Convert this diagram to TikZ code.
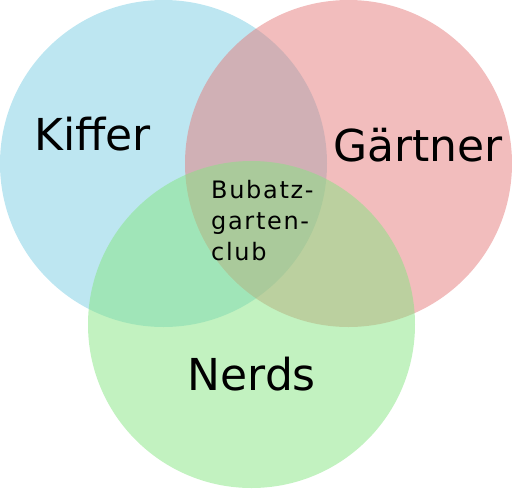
\documentclass[tikz,border=0pt]{standalone}
\usepackage{fontspec}
\setmainfont{DejaVu Sans}
\newfontfamily\spaced[LetterSpace=7]{DejaVu Sans}
\definecolor{cblue}{RGB}{123,205,227}
\definecolor{cred}{RGB}{229,123,123}
\definecolor{cgreen}{RGB}{133,229,129}
\begin{document}
\begin{tikzpicture}[x=1pt,y=-1pt,
  setfill/.style={fill=#1,fill opacity=0.5,draw=none},
  biglabel/.style={anchor=base west,inner sep=0pt,font=\fontsize{44}{53}\selectfont},
  smalllabel/.style={anchor=base west,inner sep=0pt,align=left,font=\spaced\fontsize{24}{31.2}\selectfont}]
\useasboundingbox (0,0) rectangle (512,488);
\path[setfill=cblue] (163.5,163.5) circle[radius=163.5];
\path[setfill=cred] (348.5,163.5) circle[radius=163.5];
\path[setfill=cgreen] (251.5,324.5) circle[radius=163.5];
\node[biglabel] (kiffer) at (34,150.7) {Kiffer};
\node[biglabel] (gaertner) at (333,161.7) {Gärtner};
\node[biglabel] (nerds) at (187.5,390) {Nerds};
\node[smalllabel] (club) at (211,260.7) {Bubatz-\\garten-\\club};
\end{tikzpicture}
\end{document}
